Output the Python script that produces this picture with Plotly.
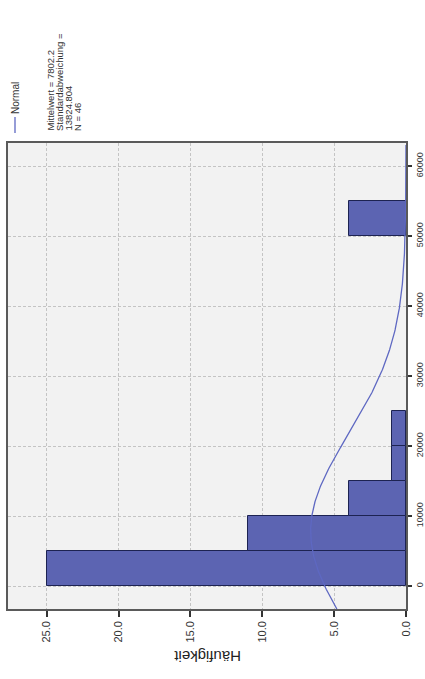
import numpy as np
import plotly.graph_objects as go

# ---- data ----
bin_starts = [0, 5000, 10000, 15000, 20000, 50000]
counts = [25, 11, 4, 1, 1, 4]
bin_width = 5000
MEAN = 7802.2
SD = 13824.804
N = 46
value_ticks = [0, 10000, 20000, 30000, 40000, 50000, 60000]
freq_ticks = [0, 5, 10, 15, 20, 25]
legend_lines = ["Mittelwert = 7802.2", "Standardabweichung =", "13824.804", "N = 46"]

W, H = 425, 679
L, R, T, B = 8, 19, 143, 70
pw, ph = W - L - R, H - T - B

def px(x):
    return (x - L) / pw

def py(y):
    return (H - B - y) / ph

bin_centers = [s + bin_width / 2 for s in bin_starts]

yr = [-3286, 63286]
curve_y = np.linspace(yr[0], 63000, 400)
curve_x = N * bin_width * np.exp(-0.5 * ((curve_y - MEAN) / SD) ** 2) / (SD * np.sqrt(2 * np.pi))

fig = go.Figure()
fig.add_trace(go.Bar(
    x=counts, y=bin_centers, orientation="h", width=bin_width,
    marker=dict(color="#5c64b2", line=dict(color="#1d2352", width=1)),
    showlegend=False,
))
fig.add_trace(go.Scatter(
    x=curve_x, y=curve_y, mode="lines",
    line=dict(color="#5e68c2", width=1.3), showlegend=False,
))

FONT = "Liberation Sans, Arial"
axis_common = dict(
    showline=True, mirror=True, linecolor="#5a5a5a", linewidth=1.5,
    showgrid=True, gridcolor="#c4c4c4", griddash="3px,2px", gridwidth=1,
    ticks="outside", tickcolor="#333333", tickwidth=1.5,
    tickangle=-90, zeroline=False, automargin=False,
)
fig.update_xaxes(range=[27.7, 0], tickvals=freq_ticks, tickformat=".1f", ticklen=6,
                 tickfont=dict(family=FONT, size=11, color="#333333"), **axis_common)
fig.update_yaxes(range=yr, tickvals=value_ticks, tickformat="d", side="right", ticklen=4,
                 tickfont=dict(family=FONT, size=9, color="#333333"), **axis_common)

lfont = dict(family=FONT, size=9.5, color="#333333")
anns = [
    dict(text="Häufigkeit", x=px(207), y=py(667), xref="paper", yref="paper",
         textangle=180, showarrow=False,
         font=dict(family=FONT, size=15, color="#222222")),
    dict(text="Normal", x=px(15), y=py(116), xref="paper", yref="paper",
         xanchor="center", yanchor="bottom", textangle=-90, showarrow=False,
         font=dict(family=FONT, size=10, color="#333333")),
]
for txt, cx in zip(legend_lines, [50, 59, 68, 77]):
    anns.append(dict(text=txt, x=px(cx), y=py(133), xref="paper", yref="paper",
                     xanchor="center", yanchor="bottom", textangle=-90,
                     showarrow=False, font=lfont))

fig.update_layout(
    width=W, height=H,
    margin=dict(l=L, r=R, t=T, b=B),
    paper_bgcolor="white", plot_bgcolor="#f2f2f2",
    bargap=0, annotations=anns, showlegend=False,
    shapes=[dict(type="line", xref="paper", yref="paper",
                 x0=px(15), x1=px(15), y0=py(117), y1=py(133),
                 line=dict(color="#5e68c2", width=1.3))],
)

fig.write_html("out.html")
